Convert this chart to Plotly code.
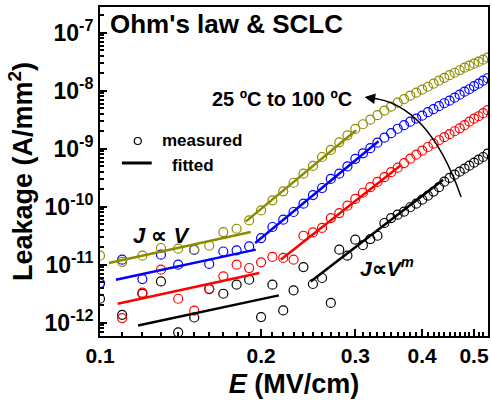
import plotly.graph_objects as go

# ---------------- data ----------------
E_field = [0.10, 0.11, 0.12, 0.13, 0.14, 0.15, 0.16, 0.17, 0.18, 0.19,
           0.20, 0.21, 0.22, 0.23, 0.24, 0.25, 0.26, 0.27, 0.28, 0.29,
           0.30, 0.31, 0.32, 0.33, 0.34, 0.35, 0.36, 0.37, 0.38, 0.39,
           0.40, 0.41, 0.42, 0.43, 0.44, 0.45, 0.46, 0.47, 0.48, 0.49,
           0.50, 0.51, 0.52, 0.53]

J_25C = [2.59e-12, 1.37e-12, 3.16e-12, 5.15e-12, 6.81e-13, 1.23e-12, 3.8e-12, 3.16e-12, 4.52e-12, 5.51e-12,
         1.25e-12, 4.52e-12, 1.63e-12, 3.61e-12, 9.12e-12, 4.65e-12, 5.90e-12, 2.19e-12, 1.82e-11, 1.43e-11,
         2.70e-11, 2.17e-11, 2.77e-11, 3.16e-11, 5.24e-11, 6.38e-11, 7.28e-11, 8.20e-11, 9.79e-11, 1.13e-10,
         1.32e-10, 1.55e-10, 1.82e-10, 2.17e-10, 2.70e-10, 3.13e-10, 3.56e-10, 4.01e-10, 4.52e-10, 5.09e-10,
         5.74e-10, 6.46e-10, 7.19e-10, 8.20e-10]

J_50C = [4.7e-12, 1.20e-12, 3.3e-12, 8.20e-12, 2.59e-12, 1.61e-12, 3.85e-12, 6.30e-12, 1.0e-11, 8.77e-12,
         1.10e-11, 1.36e-11, 1.31e-11, 1.22e-11, 3.16e-11, 3.61e-11, 4.30e-11, 6.38e-11, 7.78e-11, 1.04e-10,
         1.36e-10, 1.74e-10, 2.17e-10, 2.67e-10, 3.23e-10, 3.94e-10, 4.70e-10, 5.66e-10, 6.73e-10, 7.89e-10,
         9.25e-10, 1.07e-9, 1.22e-9, 1.40e-9, 1.58e-9, 1.78e-9, 2.00e-9, 2.25e-9, 2.54e-9, 2.92e-9,
         3.29e-9, 3.63e-9, 4.09e-9, 4.61e-9]

J_75C = [4.83e-12, 1.22e-11, 5.66e-12, 1.49e-11, 1.0e-11, 1.80e-11, 1.03e-11, 1.69e-11, 1.77e-11, 2.07e-11,
         2.88e-11, 4.47e-11, 5.97e-11, 8.11e-11, 1.13e-10, 1.59e-10, 2.10e-10, 3.01e-10, 3.71e-10, 4.95e-10,
         6.68e-10, 8.32e-10, 1.02e-9, 1.27e-9, 1.55e-9, 1.85e-9, 2.21e-9, 2.54e-9, 2.92e-9, 3.29e-9,
         3.71e-9, 4.26e-9, 4.80e-9, 5.41e-9, 6.08e-9, 6.73e-9, 7.57e-9, 8.53e-9, 9.62e-9, 1.06e-8,
         1.20e-8, 1.32e-8, 1.49e-8, 1.64e-8]

J_100C = [1.43e-11, 1.12e-11, 1.43e-11, 1.94e-11, 1.89e-11, 1.82e-11, 2.13e-11, 3.66e-11, 4.17e-11, 5.81e-11,
          8.63e-11, 1.29e-10, 1.84e-10, 2.59e-10, 3.71e-10, 5.04e-10, 7.19e-10, 9.51e-10, 1.29e-9, 1.70e-9,
          2.19e-9, 2.64e-9, 3.16e-9, 3.78e-9, 4.52e-9, 5.30e-9, 6.21e-9, 7.13e-9, 8.20e-9, 9.25e-9,
          1.04e-8, 1.17e-8, 1.32e-8, 1.49e-8, 1.67e-8, 1.85e-8, 2.04e-8, 2.25e-8, 2.49e-8, 2.70e-8,
          2.92e-8, 3.16e-8, 3.42e-8, 3.71e-8]

# fitted segments: (E start, E end), (J start, J end) -- ohmic and SCLC regions
fit_ohm_E = {"25": [0.1178, 0.2159], "50": [0.1079, 0.1984], "75": [0.1071, 0.1955], "100": [0.1039, 0.1913]}
fit_ohm_J = {"25": [8.97e-13, 2.96e-12], "50": [2.13e-12, 7.19e-12], "75": [5.51e-12, 1.82e-11], "100": [1.07e-11, 3.66e-11]}
fit_sclc_E = {"25": [0.2476, 0.4379], "50": [0.2176, 0.3639], "75": [0.1950, 0.3315], "100": [0.1874, 0.3010]}
fit_sclc_J = {"25": [5.15e-12, 2.92e-10], "50": [1.22e-11, 5.09e-10], "75": [2.37e-11, 1.34e-9], "100": [5.58e-11, 2.08e-9]}

temps = ["25", "50", "75", "100"]
colors = {"25": "#000000", "50": "#FF0000", "75": "#0000FF", "100": "#8B8B00"}
measured = {"25": J_25C, "50": J_50C, "75": J_75C, "100": J_100C}

x_tick_vals = [0.1, 0.2, 0.3, 0.4, 0.5]
x_tick_text = ["0.1", "0.2", "0.3", "0.4", "0.5"]
y_tick_vals = [1e-12, 1e-11, 1e-10, 1e-9, 1e-8, 1e-7]
y_tick_text = ["10<sup>-12</sup>", "10<sup>-11</sup>", "10<sup>-10</sup>",
               "10<sup>-9</sup>", "10<sup>-8</sup>", "10<sup>-7</sup>"]

FONT = "Liberation Sans, Arial, sans-serif"

fig = go.Figure()
for t in temps:
    fig.add_trace(go.Scatter(
        x=E_field, y=measured[t], mode="markers",
        marker=dict(symbol="circle-open", size=9, color=colors[t], line=dict(width=1.2, color=colors[t])),
        showlegend=False))
for t in temps:
    for ex, jy in ((fit_ohm_E[t], fit_ohm_J[t]), (fit_sclc_E[t], fit_sclc_J[t])):
        fig.add_trace(go.Scatter(x=ex, y=jy, mode="lines",
                                 line=dict(color=colors[t], width=2.5), showlegend=False))

# minor ticks
x_minor = [round(0.1 + 0.01 * i, 2) for i in range(1, 44)]
x_minor = [v for v in x_minor if v not in x_tick_vals]
y_minor = [m * 10.0 ** e for e in range(-13, -6) for m in range(2, 10)]

fig.update_xaxes(
    type="log", range=[-1, -0.2749],
    tickvals=x_tick_vals, ticktext=x_tick_text,
    ticks="inside", ticklen=7, tickwidth=2, tickcolor="black",
    showline=True, linewidth=2, linecolor="black", mirror=True,
    showgrid=False, zeroline=False,
    tickfont=dict(family=FONT, size=21, color="black", weight="bold"),
    minor=dict(tickvals=x_minor, ticks="inside", ticklen=4, tickwidth=1.5, tickcolor="black", showgrid=False),
    title=dict(text="<i>E</i> (MV/cm)", font=dict(family=FONT, size=27, color="black", weight="bold"), standoff=8),
)
fig.update_yaxes(
    type="log", range=[-12.229, -6.557],
    tickvals=y_tick_vals, ticktext=y_tick_text,
    ticks="inside", ticklen=7, tickwidth=2, tickcolor="black",
    showline=True, linewidth=2, linecolor="black", mirror=True,
    showgrid=False, zeroline=False,
    tickfont=dict(family=FONT, size=23, color="black", weight="bold"),
    minor=dict(tickvals=y_minor, ticks="inside", ticklen=4, tickwidth=1.5, tickcolor="black", showgrid=False),
    title=dict(text="Leakage (A/mm<sup>2</sup>)", font=dict(family=FONT, size=27, color="black", weight="bold"), standoff=4),
)

def px(xp):
    return (xp - 100) / 390.0

def py(yp):
    return (336 - yp) / 329.0

annots = [
    dict(text="<b>Ohm's law & SCLC</b>", x=px(108), y=py(24), size=26),
    dict(text="<b>25 \u00baC to 100 \u00baC</b>", x=px(211), y=py(99.5), size=20),
    dict(text="<b>measured</b>", x=px(160), y=py(140), size=17),
    dict(text="<b>fitted</b>", x=px(170), y=py(165), size=17),
    dict(text="<b><i>J</i> \u221d <i>V</i></b>", x=px(131), y=py(235), size=22),
    dict(text="<b><i>J</i>\u221d<i>V</i><sup><i>m</i></sup></b>", x=px(359), y=py(267), size=21),
]
for a in annots:
    fig.add_annotation(text=a["text"], x=a["x"], y=a["y"], xref="paper", yref="paper",
                       xanchor="left", yanchor="middle", showarrow=False,
                       font=dict(family=FONT, size=a["size"], color="black"))

# curved arrow (temperature direction)
fig.add_shape(type="path", xref="paper", yref="paper",
              path="M {},{} Q {},{} {},{}".format(px(463), py(197), px(430), py(103), px(372), py(98)),
              line=dict(color="black", width=1.5))
fig.add_annotation(x=px(366), y=py(97), xref="paper", yref="paper", ax=12, ay=2,
                   axref="pixel", ayref="pixel", text="", showarrow=True,
                   arrowhead=2, arrowsize=1.4, arrowwidth=1.5, arrowcolor="black")

# legend keys
fig.add_shape(type="circle", xref="paper", yref="paper", xsizemode="pixel", ysizemode="pixel",
              xanchor=px(138), yanchor=py(141), x0=-3.5, x1=3.5, y0=-3.5, y1=3.5,
              line=dict(color="black", width=1.2))
fig.add_shape(type="line", xref="paper", yref="paper", x0=px(122), x1=px(152), y0=py(163), y1=py(163),
              line=dict(color="black", width=3))

fig.update_layout(
    width=492, height=400,
    margin=dict(l=100, r=2, t=7, b=64),
    paper_bgcolor="white", plot_bgcolor="white",
    showlegend=False,
    font=dict(family=FONT, color="black"),
)

fig.write_html("out.html")
